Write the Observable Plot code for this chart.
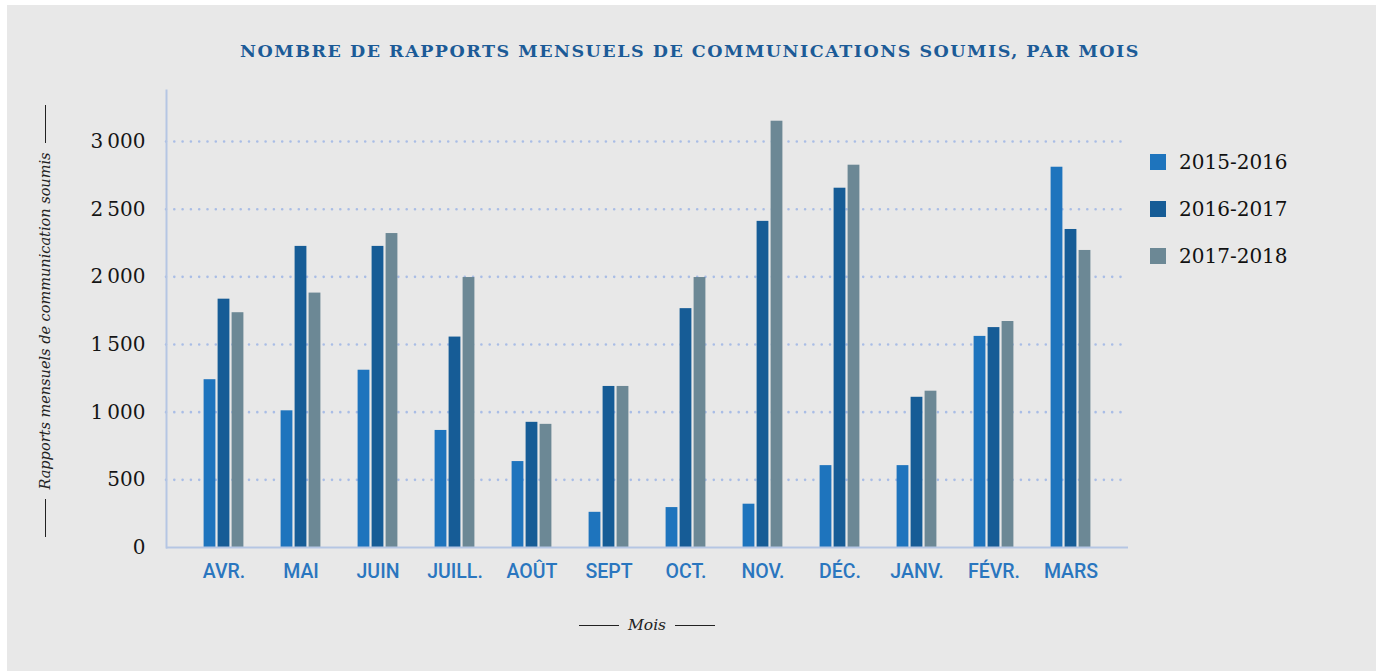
<!DOCTYPE html>
<html><head><meta charset="utf-8">
<script src="https://cdn.jsdelivr.net/npm/d3@7"></script>
<script src="https://cdn.jsdelivr.net/npm/@observablehq/plot@0.6"></script>
<style>
  html, body { margin: 0; padding: 0; background: #fff; }
  #wrap { position: relative; width: 1380px; height: 671px; overflow: hidden; }
  #bg { position: absolute; left: 7px; top: 5px; width: 1369px; height: 666px; background: #e8e8e8; }
  #title { position: absolute; left: 0; width: 1380px; top: 41px; text-align: center;
    font-family: "DejaVu Serif"; font-weight: bold; font-size: 17.5px; color: #1c5b97; letter-spacing: 1.5px; white-space: nowrap; }
  #chart { position: absolute; left: 0; top: 0; }
  #legend { position: absolute; left: 1150px; top: 150px; font-family: "DejaVu Serif"; font-size: 20px; color: #111; }
  .li { display: flex; align-items: center; height: 24px; margin-bottom: 23px; }
  .sw { width: 16px; height: 16px; margin-right: 13px; }
  #ytitle { position: absolute; left: 45px; top: 321px; width: 0; height: 0; }
  #ytitle .inner { position: absolute; left: -225px; top: -10px; width: 450px; height: 20px;
    transform: rotate(-90deg); display: flex; align-items: center; justify-content: center;
    font-family: "DejaVu Serif"; font-style: italic; font-size: 14.5px; color: #222; white-space: nowrap; }
  .ln { width: 40px; border-top: 1px solid #222; margin: 0 9px; }
  #xtitle { position: absolute; left: 447px; width: 400px; top: 614px; height: 22px; display: flex; align-items: center; justify-content: center;
    font-family: "DejaVu Serif"; font-style: italic; font-size: 15.5px; color: #222; }
</style>
</head><body>
<div id="wrap">
  <div id="bg"></div>
  <div id="title">NOMBRE DE RAPPORTS MENSUELS DE COMMUNICATIONS SOUMIS, PAR MOIS</div>
  <div id="chart"></div>
  <div id="legend"></div>
  <div id="ytitle"><div class="inner"><span class="ln"></span><span>Rapports mensuels de communication soumis</span><span class="ln"></span></div></div>
  <div id="xtitle"><span class="ln"></span><span>Mois</span><span class="ln"></span></div>
</div>
<script>
const months = ["AVR.","MAI","JUIN","JUILL.","AOÛT","SEPT","OCT.","NOV.","DÉC.","JANV.","FÉVR.","MARS"];
const seriesNames = ["2015-2016","2016-2017","2017-2018"];
const s2015 = [1240, 1010, 1310, 865, 635, 260, 295, 320, 605, 605, 1560, 2810];
const s2016 = [1835, 2225, 2225, 1555, 925, 1190, 1765, 2410, 2655, 1110, 1625, 2350];
const s2017 = [1735, 1880, 2320, 1995, 910, 1190, 1995, 3150, 2825, 1155, 1670, 2195];
const yTicks = [0, 500, 1000, 1500, 2000, 2500, 3000];
const colors = ["#1e74bd", "#165c96", "#6c8895"];

const seriesValues = [s2015, s2016, s2017];
const rows = seriesNames.map((s, k) => months.map((m, i) => ({month: m, series: s, value: seriesValues[k][i]})));

const fr = d3.formatLocale({decimal: ",", thousands: "\u2009", grouping: [3], currency: ["", " €"]});
const fmt = fr.format(",");

const offsets = [-14, 0, 14];
const chart = Plot.plot({
  width: 1380,
  height: 600,
  marginLeft: 166,
  marginRight: 252,
  marginTop: 90,
  marginBottom: 53,
  style: {background: "transparent", overflow: "visible"},
  x: {domain: months, paddingInner: 0, paddingOuter: 0.2, label: null},
  y: {domain: [0, 3377], label: null},
  marks: [
    Plot.ruleY(yTicks.filter(d => d > 0), {stroke: "#a9bde6", strokeWidth: 2.6, strokeDasharray: "0,8.3", strokeLinecap: "round"}),
    ...rows.map((data, k) => Plot.barY(data, {x: "month", y: "value", fill: colors[k], insetLeft: 32.6, insetRight: 32.6, dx: offsets[k]})),
    Plot.ruleY([0], {stroke: "#b5c6e3", strokeWidth: 2}),
    Plot.frame({anchor: "left", stroke: "#b5c6e3", strokeWidth: 2}),
    Plot.axisY({ticks: yTicks, tickFormat: fmt, tickSize: 0, tickPadding: 21, fontSize: 20, fontFamily: "DejaVu Serif", fill: "#151515", label: null}),
    Plot.axisX({tickSize: 0, tickPadding: 17, fontSize: 19.5, fontFamily: "Roboto", fontWeight: 500, fill: "#2a76bf", label: null})
  ]
});
document.getElementById("chart").appendChild(chart);

const legend = document.getElementById("legend");
seriesNames.forEach((s, k) => {
  const li = document.createElement("div");
  li.className = "li";
  li.innerHTML = `<span class="sw" style="background:${colors[k]}"></span><span>${s}</span>`;
  legend.appendChild(li);
});
</script>
</body></html>
